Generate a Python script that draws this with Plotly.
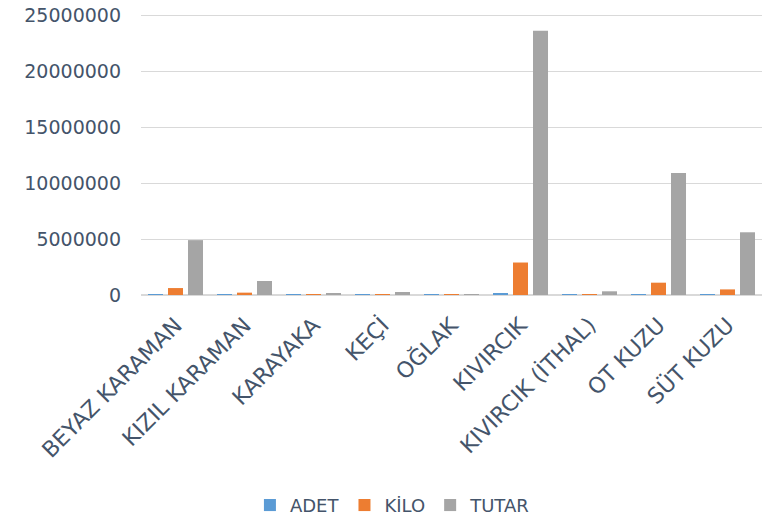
import plotly.graph_objects as go

categories = ["BEYAZ KARAMAN", "KIZIL KARAMAN", "KARAYAKA", "KEÇİ", "OĞLAK",
              "KIVIRCIK", "KIVIRCIK (İTHAL)", "OT KUZU", "SÜT KUZU"]
adet = [6000, 2500, 1000, 1500, 500, 110000, 1500, 12000, 8000]
kilo = [620000, 210000, 25000, 30000, 12000, 2900000, 40000, 1100000, 500000]
tutar = [4900000, 1250000, 180000, 270000, 40000, 23600000, 330000, 10900000, 5600000]

series = [("ADET", adet, "#5B9BD5"), ("KİLO", kilo, "#ED7D31"), ("TUTAR", tutar, "#A5A5A5")]

fig = go.Figure()
for name, vals, col in series:
    fig.add_trace(go.Bar(x=categories, y=vals, name=name, marker_color=col,
                         marker_line_width=0))

font_col = "#44546A"
fig.update_layout(
    width=762, height=521,
    margin=dict(l=141, r=0, t=14, b=226, autoexpand=False),
    plot_bgcolor="white", paper_bgcolor="white",
    barmode="group", bargap=0.13, bargroupgap=0.25,
    font=dict(family="DejaVu Sans", color=font_col, size=17),
    legend=dict(orientation="h", xref="container", x=0.515, xanchor="center",
                yref="container", y=0.03, yanchor="middle",
                font=dict(size=18, color=font_col), itemwidth=30, traceorder="normal"),
    showlegend=True,
)
fig.update_yaxes(range=[0, 25090000], dtick=5000000, tickformat="d",
                 showgrid=True, gridcolor="#D9D9D9", gridwidth=1,
                 zeroline=True, zerolinecolor="#D9D9D9", zerolinewidth=1.5,
                 tickfont=dict(size=19, color=font_col), ticks="", ticklabelstandoff=19,
                 ticklabeloverflow="allow", automargin=False)
fig.update_xaxes(tickangle=-45, tickfont=dict(size=22, color=font_col), showline=False,
                 ticklabelstandoff=12, automargin=False)

fig.write_html("out.html", config={"displayModeBar": False},
               post_script="document.body.style.margin='0px';document.body.style.overflow='hidden';")
